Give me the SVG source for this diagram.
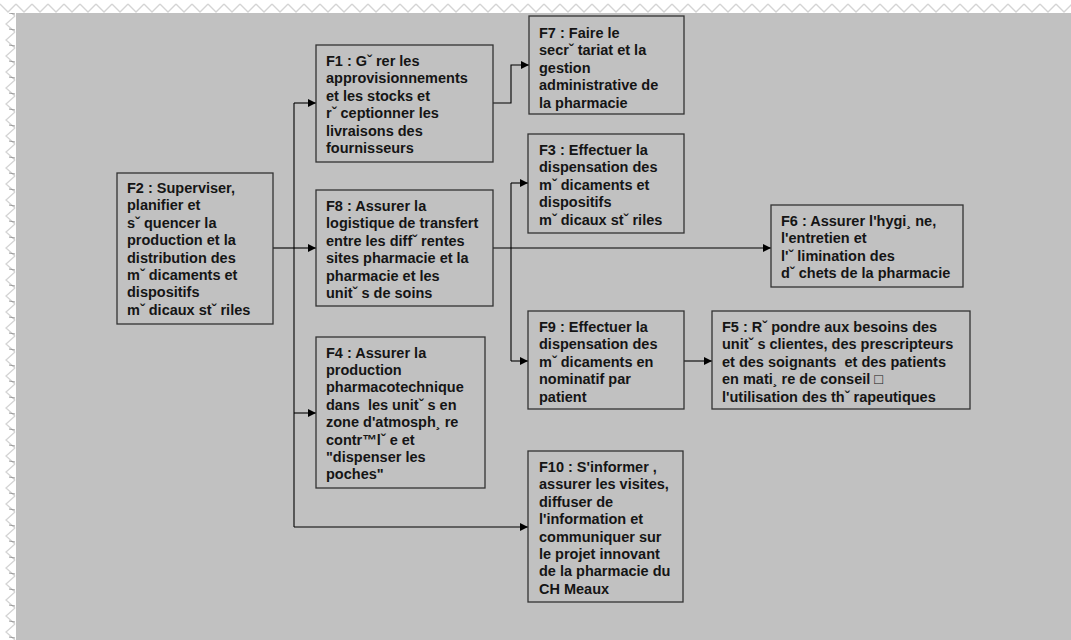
<svg xmlns="http://www.w3.org/2000/svg" width="1071" height="640" viewBox="0 0 1071 640">
  <defs>
    <pattern id="zigTop" x="0" y="0" width="16" height="13" patternUnits="userSpaceOnUse">
      <polyline points="0,4 8,12 16,4" fill="none" stroke="#d4d4d4" stroke-width="1.3"/>
    </pattern>
    <pattern id="zigLeft" x="0" y="0" width="16" height="16" patternUnits="userSpaceOnUse">
      <polyline points="15,0 6,8 15,16" fill="none" stroke="#d4d4d4" stroke-width="1.3"/>
      <line x1="9" y1="13" x2="15" y2="14" stroke="#9a9a9a" stroke-width="1"/>
    </pattern>
    <marker id="arrow" viewBox="0 0 10 10" refX="10" refY="5" markerWidth="9" markerHeight="8" markerUnits="userSpaceOnUse" orient="auto">
      <path d="M0,0 L10,5 L0,10 z" fill="#000"/>
    </marker>
    <style>
      .box { fill: none; stroke: #333; stroke-width: 1.3; }
      .lbl { font-family: "Liberation Sans", Arial, sans-serif; font-weight: bold; font-size: 14.5px; fill: #151515; }
      .wire { fill: none; stroke: #000; stroke-width: 1.1; }
    </style>
  </defs>

  <!-- page with ruled border strips -->
  <rect x="0" y="0" width="1071" height="640" fill="#fff"/>
  <rect x="0" y="0" width="1071" height="13" fill="url(#zigTop)"/>
  <rect x="0" y="13" width="16" height="627" fill="url(#zigLeft)"/>
  <rect x="16" y="13" width="1055" height="627" fill="#c1c1c1"/>

  <!-- connectors -->
  <g id="connectors">
    <polyline class="wire" points="273,248 294,248"/>
    <polyline class="wire" points="294,103 294,527"/>
    <polyline class="wire" points="294,103 316,103" marker-end="url(#arrow)"/>
    <polyline class="wire" points="294,248 316,248" marker-end="url(#arrow)"/>
    <polyline class="wire" points="294,413 316,413" marker-end="url(#arrow)"/>
    <polyline class="wire" points="294,527 528,527" marker-end="url(#arrow)"/>
    <polyline class="wire" points="493,103 511,103 511,65 529,65" marker-end="url(#arrow)"/>
    <polyline class="wire" points="493,248 771,248" marker-end="url(#arrow)"/>
    <polyline class="wire" points="511,183 511,361"/>
    <polyline class="wire" points="511,183 528,183" marker-end="url(#arrow)"/>
    <polyline class="wire" points="511,361 528,361" marker-end="url(#arrow)"/>
    <polyline class="wire" points="684,361 712,361" marker-end="url(#arrow)"/>
  </g>

  <g id="F2">
    <rect class="box" x="117" y="173" width="156" height="151"/>
    <text class="lbl" x="127" y="193">
      <tspan x="127" dy="0">F2 : Superviser,</tspan>
      <tspan x="127" dy="17.4">planifier et</tspan>
      <tspan x="127" dy="17.4">sˇ quencer la</tspan>
      <tspan x="127" dy="17.4">production et la</tspan>
      <tspan x="127" dy="17.4">distribution des</tspan>
      <tspan x="127" dy="17.4">mˇ dicaments et</tspan>
      <tspan x="127" dy="17.4">dispositifs</tspan>
      <tspan x="127" dy="17.4">mˇ dicaux stˇ riles</tspan>
    </text>
  </g>

  <g id="F1">
    <rect class="box" x="316" y="45" width="177" height="117"/>
    <text class="lbl" x="326" y="66">
      <tspan x="326" dy="0">F1 : Gˇ rer les</tspan>
      <tspan x="326" dy="17.4">approvisionnements</tspan>
      <tspan x="326" dy="17.4">et les stocks et</tspan>
      <tspan x="326" dy="17.4">rˇ ceptionner les</tspan>
      <tspan x="326" dy="17.4">livraisons des</tspan>
      <tspan x="326" dy="17.4">fournisseurs</tspan>
    </text>
  </g>

  <g id="F7">
    <rect class="box" x="529" y="16" width="155" height="98"/>
    <text class="lbl" x="539" y="38">
      <tspan x="539" dy="0">F7 : Faire le</tspan>
      <tspan x="539" dy="17.4">secrˇ tariat et la</tspan>
      <tspan x="539" dy="17.4">gestion</tspan>
      <tspan x="539" dy="17.4">administrative de</tspan>
      <tspan x="539" dy="17.4">la pharmacie</tspan>
    </text>
  </g>

  <g id="F3">
    <rect class="box" x="528" y="134" width="156" height="99"/>
    <text class="lbl" x="539" y="155">
      <tspan x="539" dy="0">F3 : Effectuer la</tspan>
      <tspan x="539" dy="17.4">dispensation des</tspan>
      <tspan x="539" dy="17.4">mˇ dicaments et</tspan>
      <tspan x="539" dy="17.4">dispositifs</tspan>
      <tspan x="539" dy="17.4">mˇ dicaux stˇ riles</tspan>
    </text>
  </g>

  <g id="F8">
    <rect class="box" x="316" y="190" width="177" height="116"/>
    <text class="lbl" x="326" y="211">
      <tspan x="326" dy="0">F8 : Assurer la</tspan>
      <tspan x="326" dy="17.4">logistique de transfert</tspan>
      <tspan x="326" dy="17.4">entre les diffˇ rentes</tspan>
      <tspan x="326" dy="17.4">sites pharmacie et la</tspan>
      <tspan x="326" dy="17.4">pharmacie et les</tspan>
      <tspan x="326" dy="17.4">unitˇ s de soins</tspan>
    </text>
  </g>

  <g id="F6">
    <rect class="box" x="771" y="205" width="192" height="82"/>
    <text class="lbl" x="781" y="226">
      <tspan x="781" dy="0">F6 : Assurer l'hygi¸ ne,</tspan>
      <tspan x="781" dy="17.4">l'entretien et</tspan>
      <tspan x="781" dy="17.4">l'ˇ limination des</tspan>
      <tspan x="781" dy="17.4">dˇ chets de la pharmacie</tspan>
    </text>
  </g>

  <g id="F9">
    <rect class="box" x="528" y="311" width="156" height="98"/>
    <text class="lbl" x="539" y="332">
      <tspan x="539" dy="0">F9 : Effectuer la</tspan>
      <tspan x="539" dy="17.4">dispensation des</tspan>
      <tspan x="539" dy="17.4">mˇ dicaments en</tspan>
      <tspan x="539" dy="17.4">nominatif par</tspan>
      <tspan x="539" dy="17.4">patient</tspan>
    </text>
  </g>

  <g id="F5">
    <rect class="box" x="712" y="311" width="258" height="98"/>
    <text class="lbl" x="722" y="332">
      <tspan x="722" dy="0">F5 : Rˇ pondre aux besoins des</tspan>
      <tspan x="722" dy="17.4">unitˇ s clientes, des prescripteurs</tspan>
      <tspan x="722" dy="17.4" xml:space="preserve">et des soignants  et des patients</tspan>
      <tspan x="722" dy="17.4">en mati¸ re de conseil □</tspan>
      <tspan x="722" dy="17.4">l'utilisation des thˇ rapeutiques</tspan>
    </text>
  </g>

  <g id="F4">
    <rect class="box" x="316" y="337" width="169" height="151"/>
    <text class="lbl" x="326" y="357.5">
      <tspan x="326" dy="0">F4 : Assurer la</tspan>
      <tspan x="326" dy="17.4">production</tspan>
      <tspan x="326" dy="17.4">pharmacotechnique</tspan>
      <tspan x="326" dy="17.4" xml:space="preserve">dans  les unitˇ s en</tspan>
      <tspan x="326" dy="17.4">zone d'atmosph¸ re</tspan>
      <tspan x="326" dy="17.4">contr™lˇ e et</tspan>
      <tspan x="326" dy="17.4">"dispenser les</tspan>
      <tspan x="326" dy="17.4">poches"</tspan>
    </text>
  </g>

  <g id="F10">
    <rect class="box" x="528" y="451" width="155" height="151"/>
    <text class="lbl" x="539" y="472">
      <tspan x="539" dy="0">F10 : S'informer ,</tspan>
      <tspan x="539" dy="17.4">assurer les visites,</tspan>
      <tspan x="539" dy="17.4">diffuser de</tspan>
      <tspan x="539" dy="17.4">l'information et</tspan>
      <tspan x="539" dy="17.4">communiquer sur</tspan>
      <tspan x="539" dy="17.4">le projet innovant</tspan>
      <tspan x="539" dy="17.4">de la pharmacie du</tspan>
      <tspan x="539" dy="17.4">CH Meaux</tspan>
    </text>
  </g>
</svg>
